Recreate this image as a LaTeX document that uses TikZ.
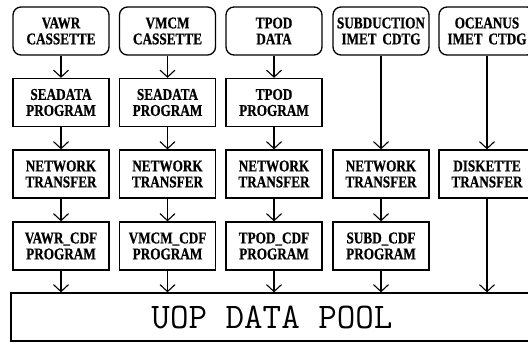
\documentclass[tikz,border=0pt]{standalone}
\usepackage{fontspec}
\newfontfamily\boxfont[FakeStretch=0.8, BoldFeatures={FakeBold=0.6}]{Liberation Serif}
\usetikzlibrary{arrows.meta}

\begin{document}
\begin{tikzpicture}[x=1pt, y=-1pt,
  blk/.style={draw, line width=1.3pt, minimum width=96pt, minimum height=48pt, inner sep=0pt, align=center, font=\boxfont\bfseries\fontsize{16.5}{16}\selectfont},
  src/.style={blk, rounded corners=8pt},
  flow/.style={-{Straight Barb[length=7pt,width=15pt]}, line width=1.1pt}]
  \useasboundingbox (0,0) rectangle (528,345);
  % sources
  \foreach \n/\x/\t in {1/61/{VAWR\\CASSETTE}, 2/167.5/{VMCM\\CASSETTE}, 3/274/{TPOD\\DATA}, 4/381/{SUBDUCTION\\IMET\hspace{0.35em}CDTG}, 5/487/{OCEANUS\\IMET\hspace{0.35em}CTDG}}
    \node[src] (s\n) at (\x,31) {\t};
  % processing rows
  \foreach \n/\x/\t in {1/61/SEADATA, 2/167.5/SEADATA, 3/274/TPOD}
    \node[blk] (p\n) at (\x,102.5) {\t\\PROGRAM};
  \foreach \n/\x/\t in {1/61/NETWORK, 2/167.5/NETWORK, 3/274/NETWORK, 4/381/NETWORK, 5/487/DISKETTE}
    \node[blk] (n\n) at (\x,174) {\t\\TRANSFER};
  \foreach \n/\x/\t in {1/61/VAWR, 2/167.5/VMCM, 3/274/TPOD, 4/381/SUBD}
    \node[blk] (c\n) at (\x,246) {\t\_CDF\\PROGRAM};
  \node[draw, line width=1.3pt, minimum width=522pt, minimum height=48pt, inner sep=0pt, font=\ttfamily\fontsize{36}{36}\selectfont] (pool) at (272,317) {UOP DATA POOL};
  % flows
  \foreach \n in {1,2,3} {
    \draw[flow] (s\n) -- (p\n);
    \draw[flow] (p\n) -- (n\n);
  }
  \draw[flow] (s4) -- (n4);
  \draw[flow] (s5) -- (n5);
  \foreach \n in {1,2,3,4} {
    \draw[flow] (n\n) -- (c\n);
    \draw[flow] (c\n) -- (c\n |- pool.north);
  }
  \draw[flow] (n5) -- (n5 |- pool.north);
\end{tikzpicture}
\end{document}
